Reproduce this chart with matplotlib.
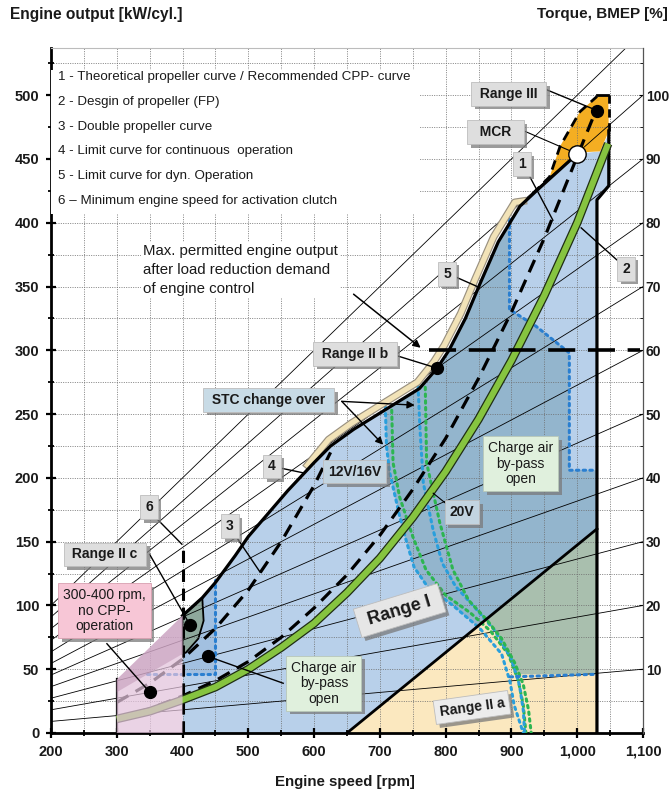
import matplotlib
matplotlib.use("Agg")
import matplotlib.pyplot as plt
import matplotlib.patheffects as pe
from matplotlib.patches import Polygon, Rectangle
from matplotlib.ticker import MultipleLocator

plt.rcParams["font.family"] = ["Liberation Sans", "DejaVu Sans"]

# ---------------------------------------------------------------- data
X_RANGE = (200, 1100)
Y_RANGE = (0, 537)

# constant torque rays through the origin, labelled in % of MCR torque
torque_pct = [10, 20, 30, 40, 50, 60, 70, 80, 90, 100, 110]
torque_ticks = [10, 20, 30, 40, 50, 60, 70, 80, 90, 100]

# 2 - design propeller curve (FP)
speed_fp = [300, 350, 400, 450, 500, 550, 600, 650, 700, 750, 800, 850, 900, 950, 1000, 1047]
out_fp = [11, 17, 26, 36, 50, 67, 86, 110, 137, 169, 205, 246, 292, 343, 400, 462]

# 1 - theoretical propeller curve / recommended CPP curve
speed_c1 = [300, 350, 400, 450, 500, 550, 600, 650, 700, 750, 800, 850, 900, 950, 1000, 1030]
out_c1 = [12, 19, 29, 41, 56, 75, 98, 124, 155, 191, 231, 278, 330, 388, 452, 490]

# 3 - double propeller curve
speed_c3 = [300, 350, 400, 450, 500, 550, 600, 625]
out_c3 = [24, 39, 58, 82, 112, 150, 194, 220]

# 4 - limit curve for continuous operation
speed_c4 = [400, 430, 450, 480, 500, 530, 560, 600, 625, 660, 710, 760, 787, 805, 830, 852, 880, 913, 940, 970, 1000]
out_c4 = [92, 106, 118, 139, 154, 172, 190, 212, 225, 238, 254, 270, 286, 300, 325, 352, 385, 413, 426, 440, 454]

# 5 - limit curve for dynamic operation
speed_c5 = [590, 622, 657, 707, 757, 782, 798, 823, 845, 873, 905, 918]
out_c5 = [210, 230, 243, 259, 275, 291, 304, 329, 356, 389, 416, 417]

# sequential turbocharging change-over lines
speed_stc_b1 = [708, 710, 715, 730, 741, 752, 772, 811, 852, 885, 898, 904, 918]
out_stc_b1 = [261, 225, 204, 170, 149, 130, 115, 100, 82, 62, 40, 22, 0]
speed_stc_g1 = [718, 720, 730, 750, 770, 800, 838, 868, 895, 910, 918, 922]
out_stc_g1 = [253, 212, 185, 154, 128, 108, 94, 80, 62, 42, 22, 0]
speed_stc_b2 = [758, 761, 766, 781, 795, 815, 845, 875, 900, 912, 918, 920]
out_stc_b2 = [272, 238, 196, 159, 133, 115, 98, 80, 58, 38, 18, 0]
speed_stc_g2 = [769, 771, 791, 811, 835, 862, 885, 905, 918, 926, 930]
out_stc_g2 = [271, 212, 165, 128, 104, 89, 74, 55, 38, 18, 0]

# charge air by-pass boundaries
speed_bp_low = [346, 450, 450]
out_bp_low = [46, 46, 120]
speed_bp_high = [897, 897, 937, 988, 988, 1028]
out_bp_high = [403, 332, 319, 298, 206, 206]
speed_bp_right = [898, 1027]
out_bp_right = [44, 46]

# operating ranges
range_i_edge_speed = [650, 1030]
range_i_edge_out = [0, 160]
pink_zone = [(300, 0), (300, 42), (400, 92), (400, 0)]
pink_band = [(300, 32), (300, 42), (400, 92), (400, 62)]
range_iic_zone = [(400, 62), (400, 92), (430, 106), (432, 88), (424, 74), (405, 63)]
bypass_low_zone = [(400, 46), (450, 46), (450, 118), (430, 106), (400, 92)]
range_iii_zone = [(915, 414), (958, 436), (974, 460), (1004, 487), (1030, 499), (1047, 500),
                  (1048, 472), (1035, 456), (1000, 455), (960, 434)]
range_iia_zone = [(650, 0), (1030, 0), (1030, 160)]
greyish_zone = [(862, 89), (878, 78), (895, 62), (905, 46), (1030, 46), (1030, 160)]
right_edge_speed = [1030, 1030, 1048, 1048]
right_edge_out = [0, 418, 429, 472]

max_output_after_reduction = 300

mcr = (1000, 454)
dot_range_iii = (1030, 488)
dot_range_iib = (787, 286)
dot_range_iic = (411, 85)
dot_no_cpp = (350, 32)
dot_bypass = (439, 60)

legend_lines = [
    "1 - Theoretical propeller curve / Recommended CPP- curve",
    "2 - Desgin of propeller (FP)",
    "3 - Double propeller curve",
    "4 - Limit curve for continuous  operation",
    "5 - Limit curve for dyn. Operation",
    "6 \u2013 Minimum engine speed for activation clutch",
]

# ---------------------------------------------------------------- figure
fig = plt.figure(figsize=(6.72, 7.96), dpi=100)
ax = fig.add_axes([51 / 672, 63 / 796, 592 / 672, 685 / 796])
ax.set_xlim(*X_RANGE)
ax.set_ylim(*Y_RANGE)

LIGHT_BLUE = "#b8d0ea"
STEEL_BLUE = "#93b5cd"


def zone(pts, color, z=1.0, alpha=1.0, ec="none", lw=0):
    ax.add_patch(Polygon(pts, closed=True, fc=color, ec=ec, lw=lw, alpha=alpha, zorder=z))


# base operating envelope
envelope = [(400, 0)] + list(zip(speed_c4, out_c4)) + [(1035, 456), (1048, 470), (1048, 429), (1030, 418), (1030, 0)]
zone(envelope, LIGHT_BLUE, 1.0)
zone(bypass_low_zone, "#a2c0e0", 1.01)

# two-turbocharger zone right of the change-over line
stc_part = [(n, p) for n, p in zip(speed_stc_b1, out_stc_b1) if p >= 82]
c4_back = [(n, p) for n, p in zip(speed_c4, out_c4) if 708 <= n <= 897][::-1]
dark_zone = stc_part + [(1030, 160), (1030, 206), (988, 206), (988, 298), (937, 319),
                        (897, 332), (897, 400)] + c4_back + [(708, 257)]
zone(dark_zone, STEEL_BLUE, 1.02)
zone(range_iia_zone, "#fbe8bf", 1.03)
zone(greyish_zone, "#a9bfae", 1.04)
zone(range_iii_zone, "#f4ae22", 1.05)
zone(range_iic_zone, "#8ea89c", 1.06, ec="black", lw=1.3)

# grid
ax.set_axisbelow("line")
ax.xaxis.set_minor_locator(MultipleLocator(50))
ax.yaxis.set_minor_locator(MultipleLocator(25))
ax.xaxis.set_major_locator(MultipleLocator(100))
ax.yaxis.set_major_locator(MultipleLocator(50))
ax.grid(True, which="both", color="#6f6f6f", lw=0.6, ls=(0, (1.2, 1.6)))

# constant torque rays
for pct in torque_pct:
    ax.plot([0, 1100], [0, pct * 5], color="black", lw=0.6, zorder=1.8, solid_capstyle="butt")

# boundaries of ranges
ax.plot(range_i_edge_speed, range_i_edge_out, color="black", lw=2.0, zorder=2.8)
ax.plot(right_edge_speed, right_edge_out, color="black", lw=2.3, zorder=2.9)
ax.plot([1048, 1048], [472, 500], color="black", lw=2.0, ls=(0, (3, 2)), zorder=2.9)
ax.plot([1030, 1047], [500, 500], color="black", lw=2.0, zorder=2.9)
ax.plot([915, 958, 974, 1004, 1030], [414, 436, 460, 487, 499], color="black", lw=2.0,
        ls=(0, (3.5, 2.2)), zorder=2.9)
ax.plot([300, 300], [0, 42], color="black", lw=1.6, zorder=2.9)
ax.plot([400, 400], [0, 148], color="black", lw=2.2, ls=(0, (4, 2.2)), zorder=2.9)

# dotted change-over and by-pass lines
dot_style = dict(lw=2.2, ls=(0, (0.8, 1.4)), zorder=2.6, dash_capstyle="round")
ax.plot(speed_stc_b1, out_stc_b1, color="#2a9fdc", **dot_style)
ax.plot(speed_stc_g1, out_stc_g1, color="#2db551", **dot_style)
ax.plot(speed_stc_b2, out_stc_b2, color="#2a9fdc", **dot_style)
ax.plot(speed_stc_g2, out_stc_g2, color="#2db551", **dot_style)
ax.plot(speed_bp_low, out_bp_low, color="#2a7fd0", **dot_style)
ax.plot(speed_bp_high, out_bp_high, color="#2a7fd0", **dot_style)
ax.plot(speed_bp_right, out_bp_right, color="#2a7fd0", **dot_style)

# propeller curves
dash_style = dict(color="black", lw=2.3, ls=(0, (4.2, 2.6)), zorder=3.0)
ax.plot(speed_c1, out_c1, **dash_style)
ax.plot(speed_c3, out_c3, **dash_style)
ax.plot(speed_fp, out_fp, color="#86c440", lw=4.4, zorder=3.2, solid_capstyle="butt",
        path_effects=[pe.Stroke(linewidth=6.2, foreground="#1f2d14"), pe.Normal()])

# limit curves
ax.plot(speed_c5, out_c5, color="#f2e3b8", lw=3.8, zorder=3.1,
        path_effects=[pe.Stroke(linewidth=5.5, foreground="#9a9180"), pe.Normal()])
ax.plot(speed_c4, out_c4, color="black", lw=2.3, zorder=3.3)

# output limit after load reduction
ax.plot([775, 1095], [max_output_after_reduction] * 2, color="black", lw=2.6,
        ls=(0, (7.5, 3.5)), zorder=3.4, clip_on=False)

# no-CPP zone overlays the curves
zone(pink_zone, "#e3c3dc", 3.5, alpha=0.72)
zone(pink_band, "#b98aad", 3.51, alpha=0.45)

# markers
for pt in [dot_range_iii, dot_range_iib, dot_range_iic, dot_no_cpp, dot_bypass]:
    ax.plot(*pt, "o", color="black", ms=8.5, zorder=6)
ax.plot(*mcr, "o", mfc="white", mec="black", mew=1.0, ms=12.5, zorder=6)

# ---------------------------------------------------------------- texts
shadow = [pe.SimplePatchShadow(offset=(2.5, -2.5), shadow_rgbFace="#7a7a7a", alpha=0.75), pe.Normal()]


def callout(x, y, s, fc="#dedede", fs=10, weight="bold", rot=0, pad=0.35, ec="#bdbdbd", z=7):
    t = ax.text(x, y, s, ha="center", va="center", fontsize=fs, fontweight=weight,
                rotation=rot, zorder=z, linespacing=1.15, color="#1a1a1a",
                bbox=dict(boxstyle=f"square,pad={pad}", fc=fc, ec=ec, lw=0.6))
    t.get_bbox_patch().set_path_effects(shadow)
    return t


def leader(p0, p1, lw=1.0, arrow=False, z=5.5):
    if arrow:
        ax.annotate("", xy=p1, xytext=p0, zorder=z,
                    arrowprops=dict(arrowstyle="-|>", color="black", lw=lw,
                                    mutation_scale=11, shrinkA=0, shrinkB=0))
    else:
        ax.plot([p0[0], p1[0]], [p0[1], p1[1]], color="black", lw=lw, zorder=z)


# legend block on white
leg_bg = Rectangle((200, 407), 560, 113, fc="white", ec="none", zorder=4)
ax.add_patch(leg_bg)
leg_y = [514, 495, 475, 456, 437, 417]
for y, s in zip(leg_y, legend_lines):
    ax.text(211, y, s, fontsize=9.6, va="center", ha="left", zorder=5, color="#1a1a1a")

ax.text(340, 363, "Max. permitted engine output\nafter load reduction demand\nof engine control",
        fontsize=10.8, va="center", ha="left", linespacing=1.42, zorder=5, color="#1a1a1a",
        bbox=dict(boxstyle="square,pad=0.15", fc="white", ec="none"))
leader((660, 344), (762, 302), lw=1.1, arrow=True)

callout(896, 501, " Range III ")
leader((950, 505), dot_range_iii)
callout(876, 471, "  MCR  ")
leader((910, 474), mcr, lw=0.8)
callout(916, 446, "1")
leader((926, 438), (963, 402))
callout(1074, 364, "2")
leader((1060, 371), (1006, 396))
callout(802, 360, "5")
leader((813, 358), (848, 350))
callout(662, 297, " Range II b ")
leader((718, 297), dot_range_iib)
callout(531, 261, " STC change over ", fc="#c8dbe6")
leader((642, 260), (753, 257), arrow=True)
leader((642, 260), (705, 226), arrow=True)
callout(536, 209, "4")
leader((546, 208), (583, 204))
callout(662, 205, "12V/16V", fc="#c2d4e0")
callout(825, 173, "20V", fc="#c2d4e0")
leader((805, 178), (781, 188), lw=0.8)
callout(914, 211, "Charge air\nby-pass\nopen", fc="#e0f0dd", weight="normal", ec="#b8c8b8")
callout(472, 162, "3")
leader((480, 155), (518, 126))
callout(349, 177, "6")
leader((357, 170), (399, 148))
callout(282, 140, " Range II c ")
leader((350, 140), dot_range_iic)
callout(281, 96, "300-400 rpm,\nno CPP-\noperation", fc="#f7c6d6", weight="normal", ec="#d8a0b0")
leader((285, 70), dot_no_cpp)
callout(615, 39, "Charge air\nby-pass\nopen", fc="#e0f0dd", weight="normal", ec="#b8c8b8")
leader(dot_bypass, (553, 39))
callout(730, 96, " Range I ", fs=13, rot=17, fc="#e6e6e6")
callout(840, 20, "Range II a", fs=10, rot=8, fc="#ececec")

# ---------------------------------------------------------------- axes styling
for side in ["left", "bottom"]:
    ax.spines[side].set_linewidth(2.0)
    ax.spines[side].set_color("black")
ax.spines["top"].set_color("#bcbcbc")
ax.spines["top"].set_linewidth(0.8)
ax.spines["right"].set_visible(False)

ax.tick_params(which="major", direction="inout", length=7, width=1.6, labelsize=10.5, pad=5)
ax.tick_params(which="minor", direction="inout", length=5, width=1.3)
ax.tick_params(top=False)
ax.xaxis.set_major_formatter(plt.FuncFormatter(lambda v, _: f"{int(v):,}"))
for lab in ax.get_xticklabels() + ax.get_yticklabels():
    lab.set_fontweight("bold")
    lab.set_color("#1a1a1a")

ax2 = ax.twinx()
ax2.set_ylim(Y_RANGE[0] / 5, Y_RANGE[1] / 5)
ax2.set_yticks(torque_ticks)
ax2.yaxis.set_minor_locator(MultipleLocator(5))
for side in ["left", "bottom", "top"]:
    ax2.spines[side].set_visible(False)
ax2.spines["right"].set_color("#555555")
ax2.spines["right"].set_linewidth(0.9)
ax2.tick_params(which="major", direction="in", length=3, width=0.8, labelsize=10, pad=2)
ax2.tick_params(which="minor", direction="in", length=2, width=0.6)
for lab in ax2.get_yticklabels():
    lab.set_fontweight("bold")
    lab.set_color("#1a1a1a")

fig.text(10 / 672, 1 - 14 / 796, "Engine output [kW/cyl.]", fontsize=11.2, fontweight="bold",
         ha="left", va="center", color="#1a1a1a")
fig.text(668 / 672, 1 - 14 / 796, "Torque, BMEP [%]", fontsize=11, fontweight="bold",
         ha="right", va="center", color="#1a1a1a")
fig.text(345 / 672, 1 - 782 / 796, "Engine speed [rpm]", fontsize=10.8, fontweight="bold",
         ha="center", va="center", color="#1a1a1a")

fig.savefig("out.png", dpi=100)
